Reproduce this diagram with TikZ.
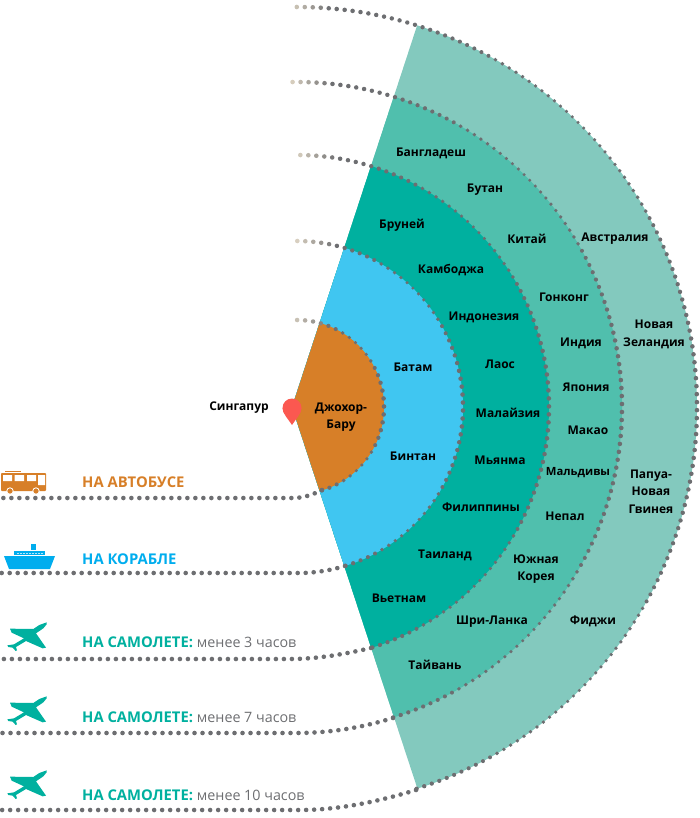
\documentclass[tikz,border=0pt]{standalone}
\usepackage{fontspec}
\setmainfont{Open Sans}
\definecolor{ringE}{HTML}{83C9BE}
\definecolor{ringD}{HTML}{50BFAD}
\definecolor{ringC}{HTML}{00B09F}
\definecolor{ringB}{HTML}{40C6F1}
\definecolor{ringA}{HTML}{D77F28}
\definecolor{dotgray}{HTML}{6D6E71}
\definecolor{dotfade}{HTML}{D9D0C0}
\definecolor{shipblue}{HTML}{00ADEE}
\definecolor{pinred}{HTML}{FB5850}
\newcommand{\ringdots}[3]{% radius, lower angle, upper angle
  \pgfmathsetmacro{\da}{8/#1*180/pi}
  \pgfmathtruncatemacro{\nn}{(#3+#2)/\da}
  \foreach \i in {0,...,\nn}{
    \pgfmathsetmacro{\ang}{-#2+\i*\da}
    \pgfmathsetmacro{\rest}{(#3-\ang)/\da}
    \pgfmathsetmacro{\mixv}{min(100,max(0,\rest*100/5))}
    \pgfmathsetmacro{\dotr}{1.65+0.65*abs(cos(2*\ang))}
    \fill[dotgray!\mixv!dotfade] ({297+#1*cos(\ang)},{407-#1*sin(\ang)}) circle[radius=\dotr];
  }
}
\tikzset{
  label/.style={font=\fontsize{12}{12}\selectfont\bfseries,text=black,inner sep=0pt,align=center},
  legendtext/.style={font=\fontsize{14.8}{15}\selectfont\bfseries,inner sep=0pt,anchor=west},
  tail/.style={draw=dotgray,line width=4.6pt,line cap=round,dash pattern=on 0pt off 8pt},
  planeicon/.pic={
    \fill[ringC,scale=1/3] (140,22) -- (118,30) -- (100,42) -- (30,41) -- (35,53) -- (72,70) -- (42,88) -- (22,91)
      -- (25,96) -- (38,98) -- (47,108) -- (51,106) -- (48,96) -- (78,78) -- (128,100) -- (138,98) -- (108,55) -- (130,40) -- (140,28) -- cycle;
  }
}
\newcommand{\sublabel}[1]{\mbox{\normalfont\fontsize{14.3}{15}\selectfont\color{dotgray}#1}}
\begin{document}
\begin{tikzpicture}[x=1pt,y=-1pt]
\useasboundingbox (0,0) rectangle (699,818);
% wedge
\begin{scope}
  \clip (292,407) -- (433,-23) -- (750,-23) -- (750,836) -- (433,836) -- cycle;
  \fill[ringE] (297,407) circle[radius=400];
  \fill[ringD] (297,407) circle[radius=325];
  \fill[ringC] (297,407) circle[radius=252];
  \fill[ringB] (297,407) circle[radius=166];
  \fill[ringA] (297,407) circle[radius=87];
\end{scope}
% arcs with fading upper tails
\ringdots{400}{72.6}{91}
\ringdots{325}{72.8}{91}
\ringdots{252}{72.6}{90}
\ringdots{166}{73}{90}
\ringdots{87}{73.4}{94}
% lower tails
\coordinate (a1) at (322,490); \coordinate (b1) at (293,498); \coordinate (e1) at (0,498);
\coordinate (a2) at (345,566); \coordinate (b2) at (300,573); \coordinate (e2) at (0,573);
\coordinate (a3) at (371,648); \coordinate (b3) at (290,659); \coordinate (e3) at (0,659);
\coordinate (a4) at (393,718); \coordinate (b4) at (295,733); \coordinate (e4) at (0,733);
\coordinate (a5) at (416,790); \coordinate (b5) at (300,810); \coordinate (e5) at (0,810);
\draw[tail] (a1) .. controls (312,495) and (303,498) .. (b1) -- (e1);
\draw[tail] (a2) .. controls (332,570) and (315,573) .. (b2) -- (e2);
\draw[tail] (a3) .. controls (345,654) and (318,659) .. (b3) -- (e3);
\draw[tail] (a4) .. controls (360,728) and (330,733) .. (b4) -- (e4);
\draw[tail] (a5) .. controls (380,801) and (340,810) .. (b5) -- (e5);
% pin
\fill[pinred] (292,408) circle[radius=9.5];
\fill[pinred] (292,425) .. controls (289,420) and (282.6,414) .. (282.6,408) -- (301.4,408) .. controls (301.4,414) and (295,420) .. (292,425) -- cycle;
% labels
\node[label] (sg) at (239,407.5) {Сингапур};
\node[label] (jb) at (341,417) {Джохор-\\[5.5pt]Бару};
\node[label] (l1) at (413,367.5) {Батам};
\node[label] (l2) at (413,456.5) {Бинтан};
\node[label] (c1) at (402,225.5) {Бруней};
\node[label] (c2) at (451,270.5) {Камбоджа};
\node[label] (c3) at (484,317.5) {Индонезия};
\node[label] (c4) at (500,364.5) {Лаос};
\node[label] (c5) at (508,412.5) {Малайзия};
\node[label] (c6) at (500,460.5) {Мьянма};
\node[label] (c7) at (481,507.5) {Филиппины};
\node[label] (c8) at (445,555.5) {Таиланд};
\node[label] (c9) at (399,598.5) {Вьетнам};
\node[label] (d1) at (431,153.5) {Бангладеш};
\node[label] (d2) at (485,189.5) {Бутан};
\node[label] (d3) at (527,238.5) {Китай};
\node[label] (d4) at (564,297.5) {Гонконг};
\node[label] (d5) at (581,343.5) {Индия};
\node[label] (d6) at (586,387.5) {Япония};
\node[label] (d7) at (588,430.5) {Макао};
\node[label,font=\fontsize{11.3}{12}\selectfont\bfseries] (d8) at (578,472.5) {Мальдивы};
\node[label] (d9) at (565,516.5) {Непал};
\node[label] (d10) at (536,569) {Южная\\[5.5pt]Корея};
\node[label] (d11) at (492,621.5) {Шри-Ланка};
\node[label] (d12) at (435,664.5) {Тайвань};
\node[label] (e10) at (615,238.5) {Австралия};
\node[label] (e20) at (654,334.5) {Новая\\[5.5pt]Зеландия};
\node[label] (e30) at (651,491.5) {Папуа-\\[5.5pt]Новая\\[5.5pt]Гвинея};
\node[label] (e40) at (593,621.5) {Фиджи};
% legend
\node[legendtext,text=ringA] (t1) at (82,482) {НА АВТОБУСЕ};
\node[legendtext,text=shipblue] (t2) at (82,559) {НА КОРАБЛЕ};
\node[legendtext,text=ringC] (t3) at (82,642) {НА САМОЛЕТЕ: \sublabel{менее 3 часов}};
\node[legendtext,text=ringC] (t4) at (82,717) {НА САМОЛЕТЕ: \sublabel{менее 7 часов}};
\node[legendtext,text=ringC] (t5) at (82,795) {НА САМОЛЕТЕ: \sublabel{менее 10 часов}};
% bus
\fill[ringA] (5,471) rectangle (21,472.2);
\fill[ringA,rounded corners=0.8pt] (1,473) rectangle (46,491);
\fill[white] (3,475) rectangle (12,481) (14.5,475) rectangle (24,481) (27,475) rectangle (36,481) (38,475) rectangle (45,485);
\fill[ringA,draw=white,line width=0.8pt] (10,491) circle[radius=3.2] (36,491) circle[radius=3.2];
% ship
\fill[shipblue] (4,556) -- (55,556) -- (50,569) -- (9,569) -- cycle;
\fill[shipblue] (14,551) rectangle (45,555.4);
\fill[shipblue] (31,544) rectangle (36,549.5);
\draw[white!70!shipblue,line width=0.7pt,dash pattern=on 2pt off 1pt] (17,553) -- (43,553);
% planes
\pic at (0,615) {planeicon};
\pic at (0,689) {planeicon};
\pic at (0,763) {planeicon};
\end{tikzpicture}
\end{document}
